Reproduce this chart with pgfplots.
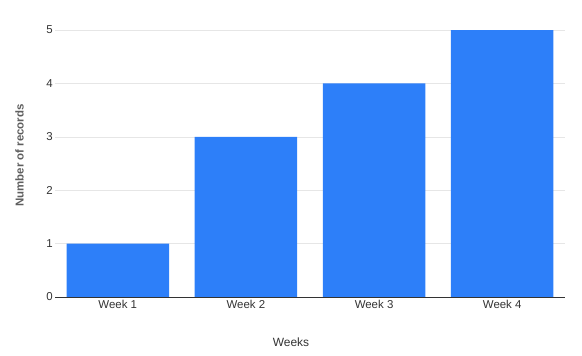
\documentclass[border=0pt]{standalone}
\usepackage{fontspec}
\setmainfont{Liberation Sans}
\usepackage{pgfplots}
\pgfplotsset{compat=1.18}
\definecolor{barblue}{HTML}{2D7FF9}
\definecolor{txt}{HTML}{333333}
\definecolor{ylab}{HTML}{5E5E5E}
\definecolor{grid}{HTML}{E6E6E6}
\begin{document}
\begin{tikzpicture}
\path[use as bounding box] (0,0) rectangle (582bp,356bp);
\begin{axis}[
  at={(55bp,59bp)}, anchor=south west,
  scale only axis, width=510bp, height=267bp,
  xmin=-0.49, xmax=3.49, ymin=0, ymax=5,
  ybar, bar width=0.8, bar shift=0pt,
  xtick=data, xticklabels={Week 1,Week 2,Week 3,Week 4},
  ytick={0,1,2,3,4,5},
  major tick length=0pt,
  axis lines*=left,
  x axis line style={draw=txt, line width=0.9pt, -},
  y axis line style={draw=none, -},
  ymajorgrids, grid style={draw=grid, line width=0.6pt},
  /pgf/number format/assume math mode=true,
  tick label style={font=\fontsize{11.5}{13}\selectfont, text=txt},
  yticklabel style={inner sep=2bp},
  xticklabel style={inner sep=2bp, yshift=-1bp},
  xlabel={Weeks}, ylabel={Number of records},
  xlabel style={font=\fontsize{12}{14}\selectfont, text=txt, anchor=center, at={(axis description cs:0.4627,-0.1685)}},
  ylabel style={font=\bfseries\fontsize{11.5}{13}\selectfont, text=ylab, anchor=center, at={(axis description cs:-0.0696,0.53)}},
]
\addplot[fill=barblue, draw=none] coordinates {(0,1) (1,3) (2,4) (3,5)};
\end{axis}
\end{tikzpicture}
\end{document}
